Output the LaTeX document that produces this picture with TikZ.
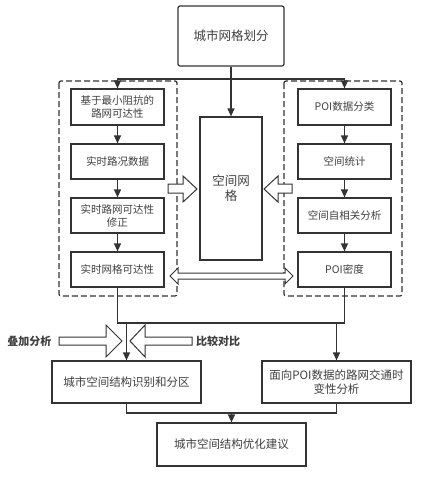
\documentclass[tikz,border=0pt]{standalone}
\usepackage{fontspec}
\setmainfont{Noto Sans CJK SC}
\usetikzlibrary{arrows.meta}
\definecolor{ln}{HTML}{333333}
\definecolor{tx}{HTML}{404040}
\begin{document}
\begin{tikzpicture}[x=1pt,y=-1pt,
  box/.style={draw=ln,line width=1.2pt,fill=white,text=tx,align=center,inner sep=1pt,
     font=\fontsize{10.5}{13}\selectfont},
  arr/.style={draw=ln,line width=1.2pt,-{Triangle[length=8pt,width=7pt]}},
  ln/.style={draw=ln,line width=1.2pt},
  dbox/.style={draw=ln,line width=1.2pt,dash pattern=on 6pt off 3pt,rounded corners=2pt},
  blk/.style={draw=ln,line width=1pt,fill=white,line join=miter}]
\useasboundingbox (0,0) rectangle (428,483);
% dashed groups
\draw[dbox] (59,81) rectangle (177,296);
\draw[dbox] (284,81) rectangle (402,296);
% nodes
\node[box,rounded corners=2pt,minimum width=106,minimum height=60,font=\fontsize{12.5}{15}\selectfont] (top) at (231,36) {城市网格划分};
\node[box,minimum width=62,minimum height=143,font=\fontsize{12.5}{15}\selectfont] (grid) at (231,188.5) {空间网\\格};
\node[box,minimum width=93,minimum height=36] (l1) at (117.5,107) {基于最小阻抗的\\路网可达性};
\node[box,minimum width=93,minimum height=35] (l2) at (117.5,161.5) {实时路况数据};
\node[box,minimum width=93,minimum height=35] (l3) at (117.5,215.5) {实时路网可达性\\修正};
\node[box,minimum width=93,minimum height=35] (l4) at (117.5,269.5) {实时网格可达性};
\node[box,minimum width=93,minimum height=36] (r1) at (344.5,107) {POI数据分类};
\node[box,minimum width=93,minimum height=35] (r2) at (344.5,161.5) {空间统计};
\node[box,minimum width=93,minimum height=35] (r3) at (344.5,215.5) {空间自相关分析};
\node[box,minimum width=93,minimum height=35] (r4) at (344.5,269.5) {POI密度};
\node[box,minimum width=149,minimum height=42,font=\fontsize{11.5}{14}\selectfont] (A) at (126.5,382) {城市空间结构识别和分区};
\node[box,minimum width=149,minimum height=42,font=\fontsize{11.5}{14}\selectfont] (B) at (336.5,382) {面向POI数据的路网交通时\\变性分析};
\node[box,minimum width=149,minimum height=43,font=\fontsize{11.5}{14}\selectfont] (C) at (231.5,444.5) {城市空间结构优化建议};
\node[text=tx,font=\fontsize{11}{13}\selectfont\bfseries] (t1) at (29.5,341) {叠加分析};
\node[text=tx,font=\fontsize{11}{13}\selectfont\bfseries] (t2) at (218,341) {比较对比};
% coordinates
\coordinate (j1) at (231,79);
\coordinate (j2) at (117.5,323);
\coordinate (j3) at (344.5,323);
\coordinate (j4) at (231.5,413);
% connectors
\draw[arr] (top.south) -- (grid.north);
\draw[arr] (j1) -| (l1.north);
\draw[arr] (j1) -| (r1.north);
\draw[arr] (l1) -- (l2);
\draw[arr] (l2) -- (l3);
\draw[arr] (l3) -- (l4);
\draw[arr] (r1) -- (r2);
\draw[arr] (r2) -- (r3);
\draw[arr] (r3) -- (r4);
\draw[ln] (l4.south) -- (j2) -- (j3) -- (r4.south);
\draw[arr] (A.north |- j2) -- (A.north);
\draw[arr] (B.north |- j3) -- (B.north);
\draw[ln] (A.south) |- (j4) -| (B.south);
\draw[arr] (j4) -- (C.north);
% block arrows
\draw[blk] (168,184) -- (183,184) -- (183,176) -- (197,189) -- (183,202) -- (183,193) -- (168,193) -- cycle;
\draw[blk] (292,184) -- (278,184) -- (278,176) -- (264,189) -- (278,202) -- (278,193) -- (292,193) -- cycle;
\draw[blk] (170,276) -- (178,268) -- (178,273) -- (285,273) -- (285,268) -- (293,276) -- (285,284) -- (285,279) -- (178,279) -- (178,284) -- cycle;
\draw[blk] (59,337) -- (106,337) -- (106,325) -- (122,341) -- (106,357) -- (106,345) -- (59,345) -- cycle;
\draw[blk] (192,337) -- (145,337) -- (145,325) -- (130,341) -- (145,357) -- (145,345) -- (192,345) -- cycle;
\end{tikzpicture}
\end{document}
